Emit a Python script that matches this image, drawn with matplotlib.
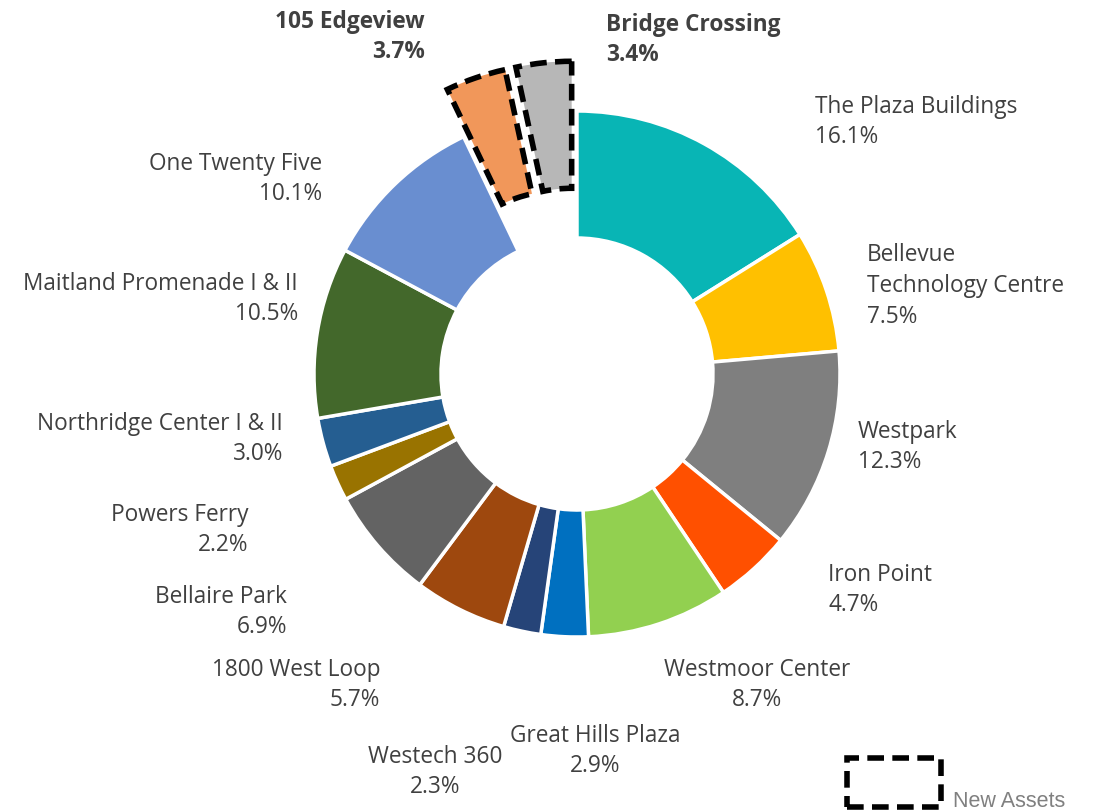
import matplotlib.pyplot as plt
from matplotlib.patches import Rectangle

names = ["The Plaza Buildings", "Bellevue\nTechnology Centre", "Westpark", "Iron Point",
         "Westmoor Center", "Great Hills Plaza", "Westech 360", "1800 West Loop",
         "Bellaire Park", "Powers Ferry", "Northridge Center I & II",
         "Maitland Promenade I & II", "One Twenty Five", "105 Edgeview", "Bridge Crossing"]
shares = [16.1, 7.5, 12.3, 4.7, 8.7, 2.9, 2.3, 5.7, 6.9, 2.2, 3.0, 10.5, 10.1, 3.7, 3.4]
new_asset = [False] * 13 + [True, True]

colors = ["#08B5B5", "#FFC000", "#7F7F7F", "#FF5000", "#92D050", "#0070C0", "#264478",
          "#9E480E", "#636363", "#997300", "#255E91", "#43682B", "#698ED0", "#F1975A",
          "#B7B7B7"]

# label anchors in pixel space (x, y from top) and alignment
label_pos = [(815, 122, "left"), (867, 286, "left"), (858, 447, "left"), (828, 590, "left"),
             (757, 685, "center"), (595, 751, "center"), (435, 772, "center"),
             (380, 685, "right"), (287, 612, "right"), (248, 530, "right"),
             (283, 439, "right"), (298, 299, "right"), (322, 179, "right"),
             (425, 37, "right"), (606, 40, "left")]

W, H = 1101, 812
fig = plt.figure(figsize=(W / 100, H / 100), dpi=100)
ax = fig.add_axes([0, 0, 1, 1])

explode = [50 if n else 0 for n in new_asset]
wedges, _ = ax.pie(shares, colors=colors, startangle=90, counterclock=False,
                   radius=263, center=(577, H - 375), explode=explode,
                   wedgeprops=dict(width=127, edgecolor="white", linewidth=2.5))
for w, n in zip(wedges, new_asset):
    if n:
        w.set_edgecolor("black")
        w.set_linewidth(4)
        w.set_linestyle((0, (3, 1.5)))
        w.set_zorder(3)

for name, val, (x, y, ha), n in zip(names, shares, label_pos, new_asset):
    ax.text(x, H - y, f"{name}\n{val:.1f}%", ha=ha, va="center", multialignment=ha,
            fontsize=16.3, family="Open Sans", color="#404040",
            fontweight="bold" if n else "normal", linespacing=1.38)

ax.add_patch(Rectangle((847, H - 808), 94, 49, facecolor="none", edgecolor="black",
                       linewidth=4, linestyle=(0, (3, 1.5))))
ax.text(953, H - 807, "New Assets", ha="left", va="baseline", fontsize=15.5,
        family="Liberation Sans", color="#808080")

ax.set_xlim(0, W)
ax.set_ylim(0, H)
ax.set_aspect("equal")
ax.axis("off")

fig.savefig("out.png", dpi=100)
